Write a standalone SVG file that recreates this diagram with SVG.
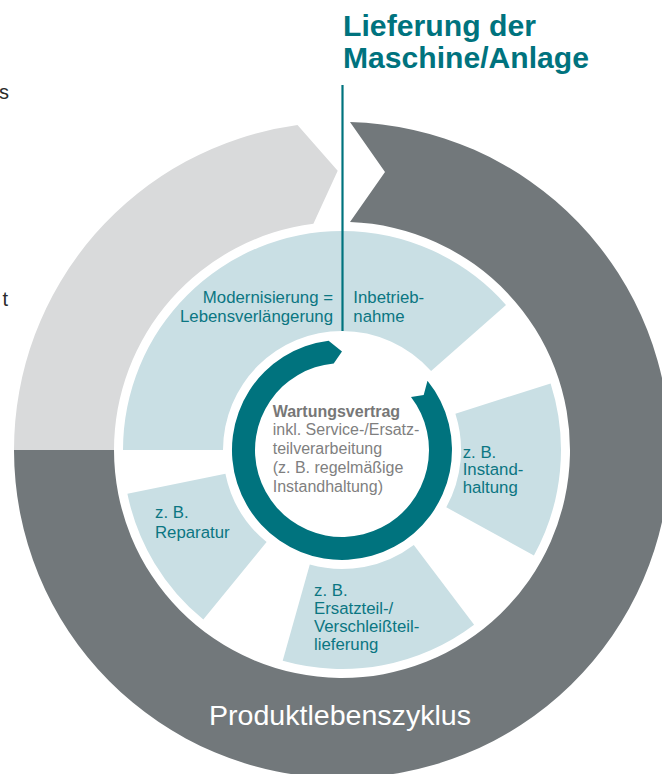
<svg xmlns="http://www.w3.org/2000/svg" width="662" height="774" viewBox="0 0 662 774">
<style>
.lb{fill:#c9dfe4}
.lbl{font-family:"Liberation Sans",Arial,sans-serif;font-size:16.8px;fill:#0b7682}
.ctr{font-family:"Liberation Sans",Arial,sans-serif;font-size:16px;fill:#7f7f7f}
.ttl{font-family:"Liberation Sans",Arial,sans-serif;font-size:29px;font-weight:bold;fill:#00737e}
.frag{font-family:"Liberation Sans",Arial,sans-serif;font-size:20px;fill:#2b2b2b}
</style>
<rect width="662" height="774" fill="#ffffff"/>
<g id="fragments">
<text class="frag" x="9" y="99" text-anchor="end">s</text>
<text class="frag" x="8" y="306" text-anchor="end">t</text>
</g>
<g id="lifecycle-ring">
<path d="M350,122.1 A328,328 0 1 1 14,450 L114,450 A228,228 0 1 0 350,222.1 L385,172 Z" fill="#72787b"/>
<path d="M14,450 A328,328 0 0 1 297.5,125 L337.7,170.7 L313.4,223.8 A228,228 0 0 0 114,450 Z" fill="#d9dadb"/>
<text x="340" y="725" text-anchor="middle" font-family="Liberation Sans, Arial, sans-serif" font-size="28" fill="#ffffff" textLength="262" lengthAdjust="spacingAndGlyphs">Produktlebenszyklus</text>
</g>
<g id="seg-modernisierung">
<path class="lb" d="M123,450 A219,219 0 0 1 342,231 L342,331 A119,119 0 0 0 223,450 Z"/>
<text class="lbl" text-anchor="end"><tspan x="333" y="303.3">Modernisierung =</tspan><tspan x="333" y="321.7">Lebensverlängerung</tspan></text>
</g>
<g id="seg-inbetriebnahme">
<path class="lb" d="M342,231 A219,219 0 0 1 506,304.9 L431.1,371.1 A119,119 0 0 0 342,331 Z"/>
<text class="lbl"><tspan x="353.3" y="303.3">Inbetrieb-</tspan><tspan x="353.3" y="321.7">nahme</tspan></text>
</g>
<g id="seg-instandhaltung">
<path class="lb" d="M550.6,383.4 A219,219 0 0 1 533.9,555.5 L446.3,507.3 A119,119 0 0 0 455.4,413.8 Z"/>
<text class="lbl"><tspan x="462.7" y="457.5">z. B.</tspan><tspan x="462.7" y="475">Instand-</tspan><tspan x="462.7" y="492.5">haltung</tspan></text>
</g>
<g id="seg-ersatzteil">
<path class="lb" d="M474.1,624.7 A219,219 0 0 1 282.7,660.8 L309.8,564.6 A119,119 0 0 0 413.8,544.9 Z"/>
<text class="lbl"><tspan x="314" y="596">z. B.</tspan><tspan x="314" y="614">Ersatzteil-/</tspan><tspan x="314" y="631.8">Verschleißteil-</tspan><tspan x="314" y="649.8">lieferung</tspan></text>
</g>
<g id="seg-reparatur">
<path class="lb" d="M203.3,619.5 A219,219 0 0 1 127.4,493.7 L225.4,473.7 A119,119 0 0 0 266.6,542.1 Z"/>
<text class="lbl"><tspan x="155" y="518.3">z. B.</tspan><tspan x="155" y="537.5">Reparatur</tspan></text>
</g>
<g id="wartungsvertrag">
<path d="M427.5,380.8 A110,110 0 1 1 328.6,340.8 L342,351.5 L333.7,363.4 A87,87 0 1 0 411,397 L423.7,394.9 Z" fill="#00737e"/>
<text class="ctr"><tspan x="272.7" y="416.6" font-weight="bold" fill="#777777">Wartungsvertrag</tspan><tspan x="272.7" y="435.3">inkl. Service-/Ersatz-</tspan><tspan x="272.7" y="454">teilverarbeitung</tspan><tspan x="272.7" y="472.8">(z. B. regelmäßige</tspan><tspan x="272.7" y="491.5">Instandhaltung)</tspan></text>
</g>
<g id="connectors">
<line x1="342.5" y1="85" x2="342.5" y2="331" stroke="#00737e" stroke-width="2.2"/>
</g>
<g id="lieferung">
<text class="ttl"><tspan x="343" y="36" textLength="193" lengthAdjust="spacingAndGlyphs">Lieferung der</tspan><tspan x="343" y="68" textLength="246" lengthAdjust="spacingAndGlyphs">Maschine/Anlage</tspan></text>
</g>
</svg>
